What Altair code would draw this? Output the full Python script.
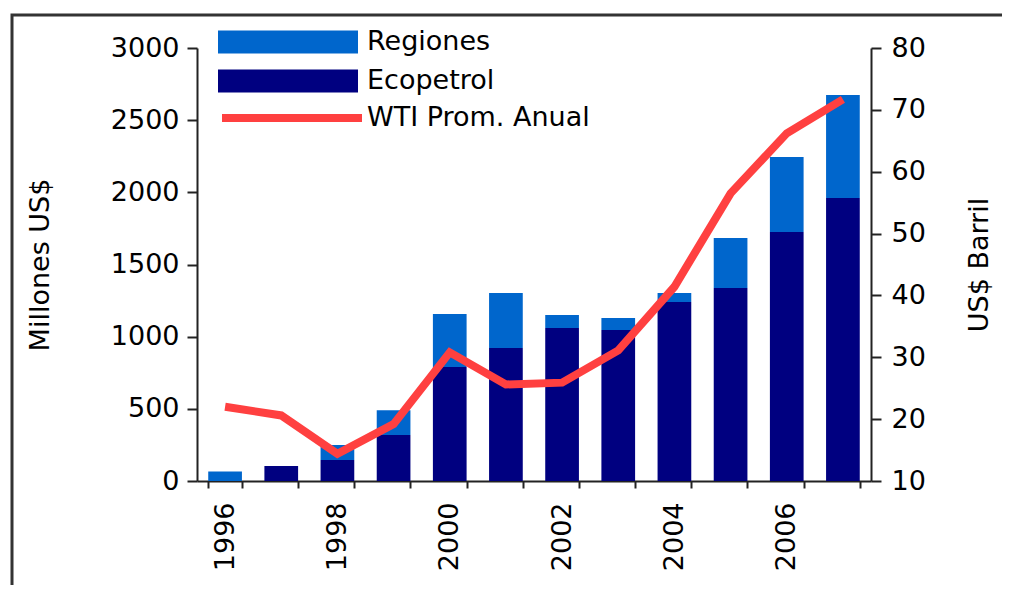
import altair as alt
import pandas as pd

years = ["1996", "1997", "1998", "1999", "2000", "2001", "2002", "2003", "2004", "2005", "2006", "2007"]
ecopetrol = [0, 104, 145, 319, 790, 922, 1060, 1046, 1240, 1337, 1726, 1961]
regiones = [65, 0, 105, 171, 367, 381, 90, 84, 63, 347, 519, 714]
wti = [22.0, 20.6, 14.4, 19.2, 30.8, 25.6, 25.9, 31.1, 41.4, 56.5, 66.2, 71.7]
left_ticks = [0, 500, 1000, 1500, 2000, 2500, 3000]
right_ticks = [10, 20, 30, 40, 50, 60, 70, 80]
series_names = ["Regiones", "Ecopetrol"]
line_name = "WTI Prom. Anual"

FONT = "DejaVu Sans"
FS = 27
AX = "#222222"

rows = []
for y, e, r in zip(years, ecopetrol, regiones):
    rows.append({"year": y, "serie": "Ecopetrol", "value": e, "ord": 0})
    rows.append({"year": y, "serie": "Regiones", "value": r, "ord": 1})
df_bars = pd.DataFrame(rows)
df_line = pd.DataFrame({"year": years, "wti": wti, "lab": [line_name] * len(years)})
df_frame = pd.DataFrame({"k": [0]})

xenc = alt.X(
    "year:N",
    sort=years,
    scale=alt.Scale(paddingInner=0.4, paddingOuter=0.2),
    axis=alt.Axis(
        title=None,
        labelAngle=270,
        labelAlign="right",
        labelBaseline="middle",
        labelPadding=14,
        tickBand="extent",
        tickSize=7,
        labelExpr="parseInt(datum.value) % 2 == 0 ? datum.value : ''",
    ),
)

bars = alt.Chart(df_bars).mark_bar().encode(
    x=xenc,
    y=alt.Y(
        "value:Q",
        stack="zero",
        scale=alt.Scale(domain=[0, 3000], nice=False),
        axis=alt.Axis(
            title="Millones US$",
            values=left_ticks,
            format="d",
            tickSize=10,
            labelPadding=8,
            titlePadding=56,
            grid=False,
        ),
    ),
    color=alt.Color(
        "serie:N",
        scale=alt.Scale(domain=series_names, range=["#0066CC", "#000080"]),
        legend=alt.Legend(
            title=None,
            orient="none",
            legendX=21,
            legendY=-19.5,
            symbolType="M-1,-0.165L1,-0.165L1,0.165L-1,0.165Z",
            symbolSize=19600,
            symbolStrokeWidth=0,
            symbolOpacity=1,
            labelOffset=9,
            labelLimit=400,
            clipHeight=27,
            rowPadding=11,
            padding=0,
        ),
    ),
    order=alt.Order("ord:Q", sort="ascending"),
)

line = alt.Chart(df_line).mark_line(strokeWidth=8).encode(
    x=alt.X("year:N", sort=years),
    y=alt.Y(
        "wti:Q",
        scale=alt.Scale(domain=[10, 80], nice=False),
        axis=alt.Axis(
            title="US$ Barril",
            orient="right",
            values=right_ticks,
            tickSize=10,
            labelPadding=10,
            titlePadding=68,
            titleAngle=270,
            grid=False,
        ),
    ),
    stroke=alt.Stroke(
        "lab:N",
        scale=alt.Scale(domain=[line_name], range=["#FF4040"]),
        legend=alt.Legend(
            title=None,
            orient="none",
            legendX=21,
            legendY=56.5,
            symbolType="stroke",
            symbolSize=19600,
            symbolStrokeWidth=8,
            labelOffset=1,
            labelLimit=400,
            clipHeight=27,
            padding=0,
        ),
    ),
)

frame = alt.Chart(df_frame).mark_rect(filled=False, stroke="#333333", strokeWidth=3).encode(
    x=alt.value(-185),
    x2=alt.value(1000),
    y=alt.value(-33),
    y2=alt.value(700),
)

chart = (
    alt.layer(bars, line, frame)
    .resolve_scale(y="independent", color="independent")
    .properties(
        width=674,
        height=433,
        autosize=alt.AutoSizeParams(type="none"),
        padding={"left": 189, "top": 40, "right": 131, "bottom": 104},
    )
    .configure_view(strokeWidth=0)
    .configure_axis(
        labelFont=FONT,
        labelFontSize=FS,
        labelColor="black",
        titleFont=FONT,
        titleFontSize=FS,
        titleFontWeight="normal",
        titleColor="black",
        domainColor=AX,
        tickColor=AX,
        domainWidth=2,
        tickWidth=2,
    )
    .configure_legend(
        labelFont=FONT,
        labelFontSize=FS,
        labelColor="black",
    )
)

chart.save("out.html", embed_options={"renderer": "svg", "actions": False})
